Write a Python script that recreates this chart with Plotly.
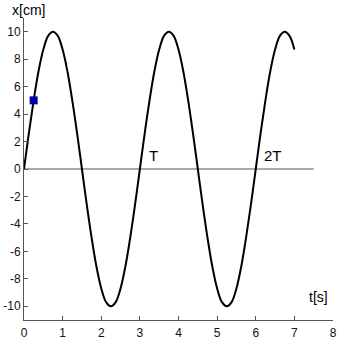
import plotly.graph_objects as go

# curve samples (t in s, x in cm)
t_vals = [0, 0.125, 0.25, 0.375, 0.5, 0.625, 0.75, 0.875, 1.0, 1.125, 1.25, 1.375,
          1.5, 1.625, 1.75, 1.875, 2.0, 2.125, 2.25, 2.375, 2.5, 2.625, 2.75, 2.875,
          3.0, 3.125, 3.25, 3.375, 3.5, 3.625, 3.75, 3.875, 4.0, 4.125, 4.25, 4.375,
          4.5, 4.625, 4.75, 4.875, 5.0, 5.125, 5.25, 5.375, 5.5, 5.625, 5.75, 5.875,
          6.0, 6.125, 6.25, 6.375, 6.5, 6.625, 6.75, 6.875, 7.0]
x_vals = [0, 2.6, 5.0, 7.1, 8.7, 9.7, 10.0, 9.7, 8.7, 7.1, 5.0, 2.6,
          0, -2.6, -5.0, -7.1, -8.7, -9.7, -10.0, -9.7, -8.7, -7.1, -5.0, -2.6,
          0, 2.6, 5.0, 7.1, 8.7, 9.7, 10.0, 9.7, 8.7, 7.1, 5.0, 2.6,
          0, -2.6, -5.0, -7.1, -8.7, -9.7, -10.0, -9.7, -8.7, -7.1, -5.0, -2.6,
          0, 2.6, 5.0, 7.1, 8.7, 9.7, 10.0, 9.7, 8.7]

zero_t = [0, 7.5]
zero_x = [0, 0]

marker_t = [0.25]
marker_x = [5.0]

x_ticks = [0, 1, 2, 3, 4, 5, 6, 7, 8]
y_ticks = [-10, -8, -6, -4, -2, 0, 2, 4, 6, 8, 10]
y_tick_text = ["-10", "-8", "-6", "-4", "-2", "0", "2", "4", "6", "8", "10"]

labels = ["T", "2T"]
label_t = [3.35, 6.45]
label_x = [1.0, 1.0]

FONT = "Liberation Sans, Arial, sans-serif"

fig = go.Figure()
fig.add_trace(go.Scatter(x=zero_t, y=zero_x, mode="lines",
                         line=dict(color="#555555", width=1),
                         hoverinfo="skip", showlegend=False))
fig.add_trace(go.Scatter(x=t_vals, y=x_vals, mode="lines",
                         line=dict(color="black", width=2, shape="spline", smoothing=1.0),
                         showlegend=False))
fig.add_trace(go.Scatter(x=marker_t, y=marker_x, mode="markers",
                         marker=dict(symbol="square", size=8, color="#0000a8",
                                     line=dict(width=0)),
                         showlegend=False))

for lab, lt, lx in zip(labels, label_t, label_x):
    fig.add_annotation(x=lt, y=lx, text=lab, showarrow=False,
                       font=dict(family=FONT, size=15, color="black"))

fig.add_annotation(xref="paper", yref="paper", x=0.013, y=1.026, text="x[cm]",
                   showarrow=False, xanchor="center", yanchor="middle",
                   font=dict(family=FONT, size=14, color="black"))
fig.add_annotation(x=7.62, y=-9.3, text="t[s]", showarrow=False,
                   font=dict(family=FONT, size=14, color="black"))

fig.update_layout(
    width=340, height=343,
    margin=dict(l=21, r=3, t=18, b=16),
    paper_bgcolor="white", plot_bgcolor="white",
    font=dict(family=FONT, size=12, color="#111111"),
    showlegend=False,
)
fig.update_xaxes(range=[0, 8], tickvals=x_ticks, ticks="inside", ticklen=4,
                 tickcolor="#555555", showgrid=False, zeroline=False,
                 showline=True, linecolor="#555555", linewidth=1,
                 ticklabeloverflow="allow", ticklabelstandoff=2,
                 tickfont=dict(family=FONT, size=12, color="#111111"))
fig.update_yaxes(range=[-11, 11], tickvals=y_ticks, ticktext=y_tick_text,
                 ticks="inside", ticklen=4,
                 tickcolor="#555555", showgrid=False, zeroline=False,
                 showline=True, linecolor="#555555", linewidth=1,
                 ticklabeloverflow="allow",
                 tickfont=dict(family=FONT, size=12, color="#111111"))

fig.write_html("out.html")
